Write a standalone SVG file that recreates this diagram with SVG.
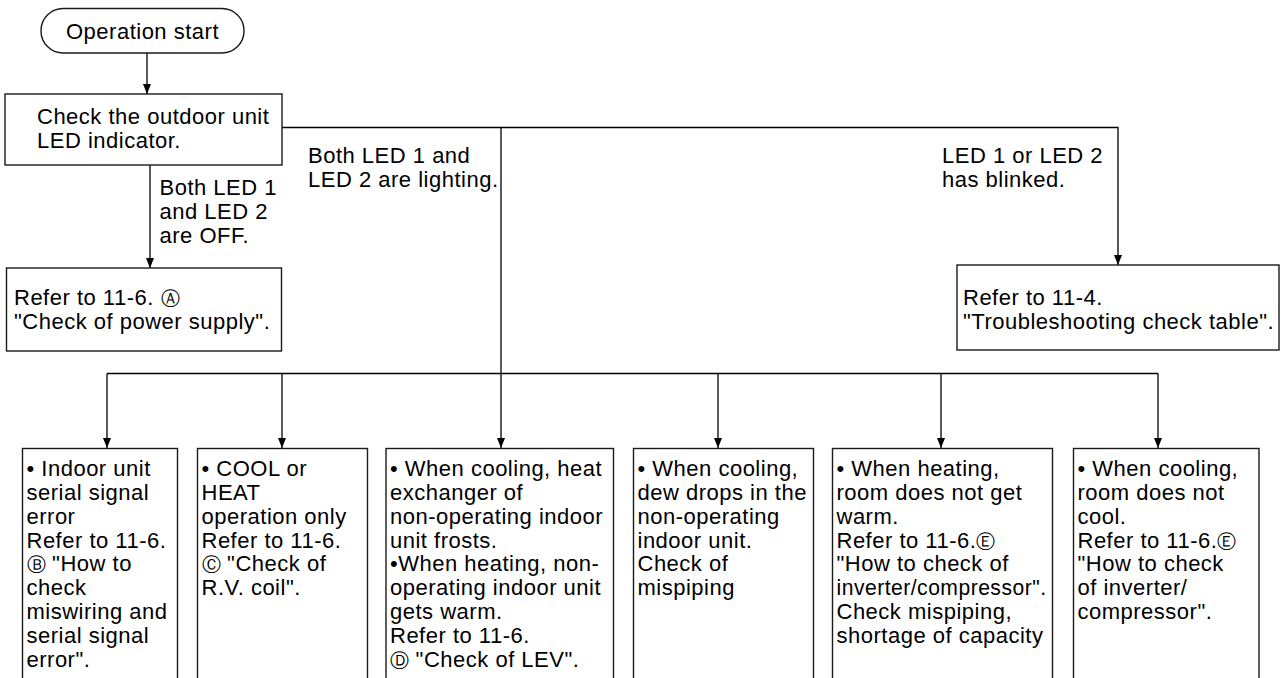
<svg xmlns="http://www.w3.org/2000/svg" width="1282" height="678" viewBox="0 0 1282 678">
<defs>
<style>
.box{fill:#fff;stroke:#1a1a1a;stroke-width:1.4}
.ln{fill:none;stroke:#000;stroke-width:1.3}
.t{font-family:"Liberation Sans",Arial,sans-serif;font-size:22px;letter-spacing:0.5px;fill:#000}
.c{font-family:"DejaVu Sans",sans-serif;font-size:19px;letter-spacing:0}
</style>
</defs>
<rect width="1282" height="678" fill="#fff"/>
<g id="connectors">
<path class="ln" d="M147,53 V94"/>
<path class="ln" d="M150,165 V268"/>
<path class="ln" d="M282,127.5 H1118 V265"/>
<path class="ln" d="M501,127.5 V448"/>
<path class="ln" d="M107,373.5 H1158"/>
<path class="ln" d="M107,373.5 V448"/>
<path class="ln" d="M282,373.5 V448"/>
<path class="ln" d="M718,373.5 V448"/>
<path class="ln" d="M941,373.5 V448"/>
<path class="ln" d="M1158,373.5 V448"/>
<g fill="#000">
<path d="M143,84 L151,84 L147,94 Z"/>
<path d="M146,258 L154,258 L150,268 Z"/>
<path d="M1114,255 L1122,255 L1118,265 Z"/>
<path d="M103,438 L111,438 L107,448 Z"/>
<path d="M278,438 L286,438 L282,448 Z"/>
<path d="M497,438 L505,438 L501,448 Z"/>
<path d="M714,438 L722,438 L718,448 Z"/>
<path d="M937,438 L945,438 L941,448 Z"/>
<path d="M1154,438 L1162,438 L1158,448 Z"/>
</g>
<text class="t"><tspan x="159.5" y="195">Both LED 1</tspan><tspan x="159.5" y="219">and LED 2</tspan><tspan x="159.5" y="243">are OFF.</tspan></text>
<text class="t"><tspan x="308" y="163">Both LED 1 and</tspan><tspan x="308" y="187">LED 2 are lighting.</tspan></text>
<text class="t"><tspan x="942" y="163">LED 1 or LED 2</tspan><tspan x="942" y="187">has blinked.</tspan></text>
</g>
<g id="start">
<rect class="box" x="41" y="8.5" width="203" height="44.5" rx="22" ry="22"/>
<text class="t" x="142.5" y="39" text-anchor="middle">Operation start</text>
</g>
<g id="check-led">
<rect class="box" x="5" y="94" width="277" height="71"/>
<text class="t"><tspan x="37" y="124.3">Check the outdoor unit</tspan><tspan x="37" y="147.6">LED indicator.</tspan></text>
</g>
<g id="power-supply">
<rect class="box" x="6.5" y="268" width="275" height="83"/>
<text class="t"><tspan x="14" y="305">Refer to 11-6. <tspan class="c">Ⓐ</tspan></tspan><tspan x="14" y="329">"Check of power supply".</tspan></text>
</g>
<g id="troubleshooting">
<rect class="box" x="957" y="265" width="322" height="85"/>
<text class="t"><tspan x="963" y="305">Refer to 11-4.</tspan><tspan x="963" y="329">"Troubleshooting check table".</tspan></text>
</g>
<g id="serial-signal">
<rect class="box" x="22.5" y="448.5" width="155" height="240"/>
<text class="t"><tspan x="26.5" y="476">• Indoor unit</tspan><tspan x="26.5" y="500">serial signal</tspan><tspan x="26.5" y="523.7">error</tspan><tspan x="26.5" y="547.5">Refer to 11-6.</tspan><tspan x="26.5" y="571.3"><tspan class="c">Ⓑ</tspan> "How to</tspan><tspan x="26.5" y="595.2">check</tspan><tspan x="26.5" y="619">miswiring and</tspan><tspan x="26.5" y="642.8">serial signal</tspan><tspan x="26.5" y="666.7">error".</tspan></text>
</g>
<g id="rv-coil">
<rect class="box" x="197.5" y="448.5" width="170" height="240"/>
<text class="t"><tspan x="201.5" y="476">• COOL or</tspan><tspan x="201.5" y="500">HEAT</tspan><tspan x="201.5" y="523.7">operation only</tspan><tspan x="201.5" y="547.5">Refer to 11-6.</tspan><tspan x="201.5" y="571.3"><tspan class="c">Ⓒ</tspan> "Check of</tspan><tspan x="201.5" y="595.2">R.V. coil".</tspan></text>
</g>
<g id="lev">
<rect class="box" x="386" y="448.5" width="227.5" height="240"/>
<text class="t"><tspan x="390" y="476">• When cooling, heat</tspan><tspan x="390" y="500">exchanger of</tspan><tspan x="390" y="523.7">non-operating indoor</tspan><tspan x="390" y="547.5">unit frosts.</tspan><tspan x="390" y="571.3">•When heating, non-</tspan><tspan x="390" y="595.2">operating indoor unit</tspan><tspan x="390" y="619">gets warm.</tspan><tspan x="390" y="642.8">Refer to 11-6.</tspan><tspan x="390" y="666.7"><tspan class="c">Ⓓ</tspan> "Check of LEV".</tspan></text>
</g>
<g id="dew-drops">
<rect class="box" x="633.5" y="448.5" width="180" height="240"/>
<text class="t"><tspan x="637.5" y="476">• When cooling,</tspan><tspan x="637.5" y="500">dew drops in the</tspan><tspan x="637.5" y="523.7">non-operating</tspan><tspan x="637.5" y="547.5">indoor unit.</tspan><tspan x="637.5" y="571.3">Check of</tspan><tspan x="637.5" y="595.2">mispiping</tspan></text>
</g>
<g id="not-warm">
<rect class="box" x="832.5" y="448.5" width="220" height="240"/>
<text class="t"><tspan x="836.5" y="476">• When heating,</tspan><tspan x="836.5" y="500">room does not get</tspan><tspan x="836.5" y="523.7">warm.</tspan><tspan x="836.5" y="547.5">Refer to 11-6.<tspan class="c">Ⓔ</tspan></tspan><tspan x="836.5" y="571.3">"How to check of</tspan></text>
<text class="t" x="836.5" y="595.2" textLength="210" lengthAdjust="spacingAndGlyphs">inverter/compressor".</text>
<text class="t"><tspan x="836.5" y="619">Check mispiping,</tspan><tspan x="836.5" y="642.8">shortage of capacity</tspan></text>
</g>
<g id="not-cool">
<rect class="box" x="1073.5" y="448.5" width="185.5" height="240"/>
<text class="t"><tspan x="1077.5" y="476">• When cooling,</tspan><tspan x="1077.5" y="500">room does not</tspan><tspan x="1077.5" y="523.7">cool.</tspan><tspan x="1077.5" y="547.5">Refer to 11-6.<tspan class="c">Ⓔ</tspan></tspan><tspan x="1077.5" y="571.3">"How to check</tspan><tspan x="1077.5" y="595.2">of inverter/</tspan><tspan x="1077.5" y="619">compressor".</tspan></text>
</g>
</svg>
